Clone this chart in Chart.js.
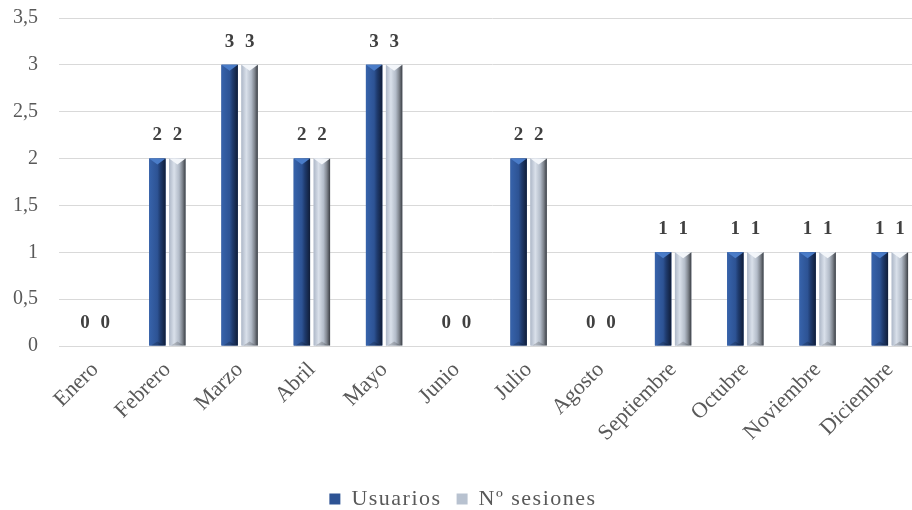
<!DOCTYPE html>
<html>
<head>
<meta charset="utf-8">
<script src="https://cdn.jsdelivr.net/npm/chart.js@4/dist/chart.umd.min.js"></script>
<style>
  html, body { margin: 0; padding: 0; background: #ffffff; overflow: hidden; }
  #wrap { width: 912px; height: 510px; position: relative; overflow: hidden; }
  #c { display: block; }
</style>
</head>
<body>
<div id="wrap"><canvas id="c" width="926" height="510"></canvas></div>
<script>
const categories = ['Enero', 'Febrero', 'Marzo', 'Abril', 'Mayo', 'Junio', 'Julio', 'Agosto', 'Septiembre', 'Octubre', 'Noviembre', 'Diciembre'];
const usuarios = [0, 2, 3, 2, 3, 0, 2, 0, 1, 1, 1, 1];
const sesiones = [0, 2, 3, 2, 3, 0, 2, 0, 1, 1, 1, 1];
const seriesNames = ['Usuarios', 'N\u00ba sesiones'];
const yMin = 0, yMax = 3.5, yStep = 0.5;

const FONT = "'Liberation Serif', 'Times New Roman', serif";
const LEGEND_SPACING = '1.5px';

// apply letter spacing only to the legend (measure + draw)
const legendSpacingPlugin = {
  id: 'legendSpacing',
  afterInit(chart) {
    const lg = chart.legend;
    if (!lg || lg._wrapped) return;
    lg._wrapped = true;
    const origFit = lg.fit, origDraw = lg.draw;
    lg.fit = function () {
      const c = this.ctx; c.save(); c.letterSpacing = LEGEND_SPACING;
      const r = origFit.apply(this, arguments); c.restore(); return r;
    };
    lg.draw = function () {
      const c = this.ctx; c.save(); c.letterSpacing = LEGEND_SPACING;
      const r = origDraw.apply(this, arguments); c.restore(); return r;
    };
  }
};

const bevelPlugin = {
  id: 'bevel',
  afterDatasetsDraw(chart) {
    const ctx = chart.ctx;
    chart.data.datasets.forEach((ds, di) => {
      const meta = chart.getDatasetMeta(di);
      meta.data.forEach((bar) => {
        const p = bar.getProps(['x', 'y', 'base', 'width'], true);
        const h = p.base - p.y;
        if (h <= 0.5) return;
        const l = p.x - p.width / 2, r = p.x + p.width / 2;
        const g = ctx.createLinearGradient(l, 0, r, 0);
        let tri;
        if (di === 0) {
          g.addColorStop(0, '#3763ab');
          g.addColorStop(0.5, '#2d5394');
          g.addColorStop(0.68, '#1f3b6e');
          g.addColorStop(1, '#101d38');
          tri = '#4a7cc8';
        } else {
          g.addColorStop(0, '#aeb8c8');
          g.addColorStop(0.3, '#d9e0ea');
          g.addColorStop(0.6, '#b3bcc9');
          g.addColorStop(0.8, '#80868f');
          g.addColorStop(1, '#3b3f45');
          tri = '#f3f6fa';
        }
        ctx.save();
        ctx.fillStyle = g;
        ctx.fillRect(l, p.y, p.width, h);
        ctx.fillStyle = tri;
        ctx.beginPath();
        ctx.moveTo(l, p.y);
        ctx.lineTo(r, p.y);
        ctx.lineTo(p.x, p.y + 6);
        ctx.closePath();
        ctx.fill();
        ctx.fillStyle = 'rgba(0,0,0,0.18)';
        ctx.beginPath();
        ctx.moveTo(l + 2, p.base);
        ctx.lineTo(r - 2, p.base);
        ctx.lineTo(p.x, p.base - 4);
        ctx.closePath();
        ctx.fill();
        ctx.restore();
      });
    });
  }
};

const labelPlugin = {
  id: 'valueLabels',
  afterDatasetsDraw(chart) {
    const ctx = chart.ctx;
    ctx.save();
    ctx.font = 'bold 19px ' + FONT;
    ctx.fillStyle = '#404040';
    ctx.textAlign = 'center';
    ctx.textBaseline = 'middle';
    chart.data.datasets.forEach((ds, di) => {
      const meta = chart.getDatasetMeta(di);
      meta.data.forEach((bar, i) => {
        const p = bar.getProps(['x', 'y'], true);
        ctx.fillText(String(ds.data[i]), p.x, p.y - 23);
      });
    });
    ctx.restore();
  }
};

new Chart(document.getElementById('c'), {
  type: 'bar',
  data: {
    labels: categories,
    datasets: [
      { label: seriesNames[0], data: usuarios, backgroundColor: '#2d5394', borderWidth: 0,
        categoryPercentage: 0.554, barPercentage: 0.82 },
      { label: seriesNames[1], data: sesiones, backgroundColor: '#b8c2d0', borderWidth: 0,
        categoryPercentage: 0.554, barPercentage: 0.82 }
    ]
  },
  options: {
    responsive: false,
    animation: false,
    devicePixelRatio: 1,
    layout: { padding: { top: 18, right: 0, left: 0, bottom: -10 } },
    plugins: {
      legend: {
        position: 'bottom',
        labels: {
          font: { family: FONT, size: 22 },
          color: '#595959',
          boxWidth: 11,
          boxHeight: 11,
          padding: 15
        }
      },
      tooltip: { enabled: false }
    },
    scales: {
      x: {
        grid: { display: false },
        border: { display: true, color: '#d9d9d9' },
        afterFit: (s) => { s.height = 127; s.paddingTop = 0; s.paddingBottom = 0; s.paddingLeft = 0; s.paddingRight = 0; },
        ticks: {
          font: { family: FONT, size: 22 },
          color: '#595959',
          maxRotation: 45,
          minRotation: 45,
          padding: 3
        }
      },
      y: {
        min: yMin,
        max: yMax,
        afterFit: (s) => { s.width = 59; s.paddingTop = 0; s.paddingBottom = 0; },
        grid: { color: '#d9d9d9', lineWidth: 1, drawTicks: false },
        border: { display: false },
        ticks: {
          stepSize: yStep,
          font: { family: FONT, size: 20 },
          color: '#595959',
          padding: 21,
          callback: (v) => String(v).replace('.', ',')
        }
      }
    }
  },
  plugins: [legendSpacingPlugin, bevelPlugin, labelPlugin]
});
</script>
</body>
</html>
